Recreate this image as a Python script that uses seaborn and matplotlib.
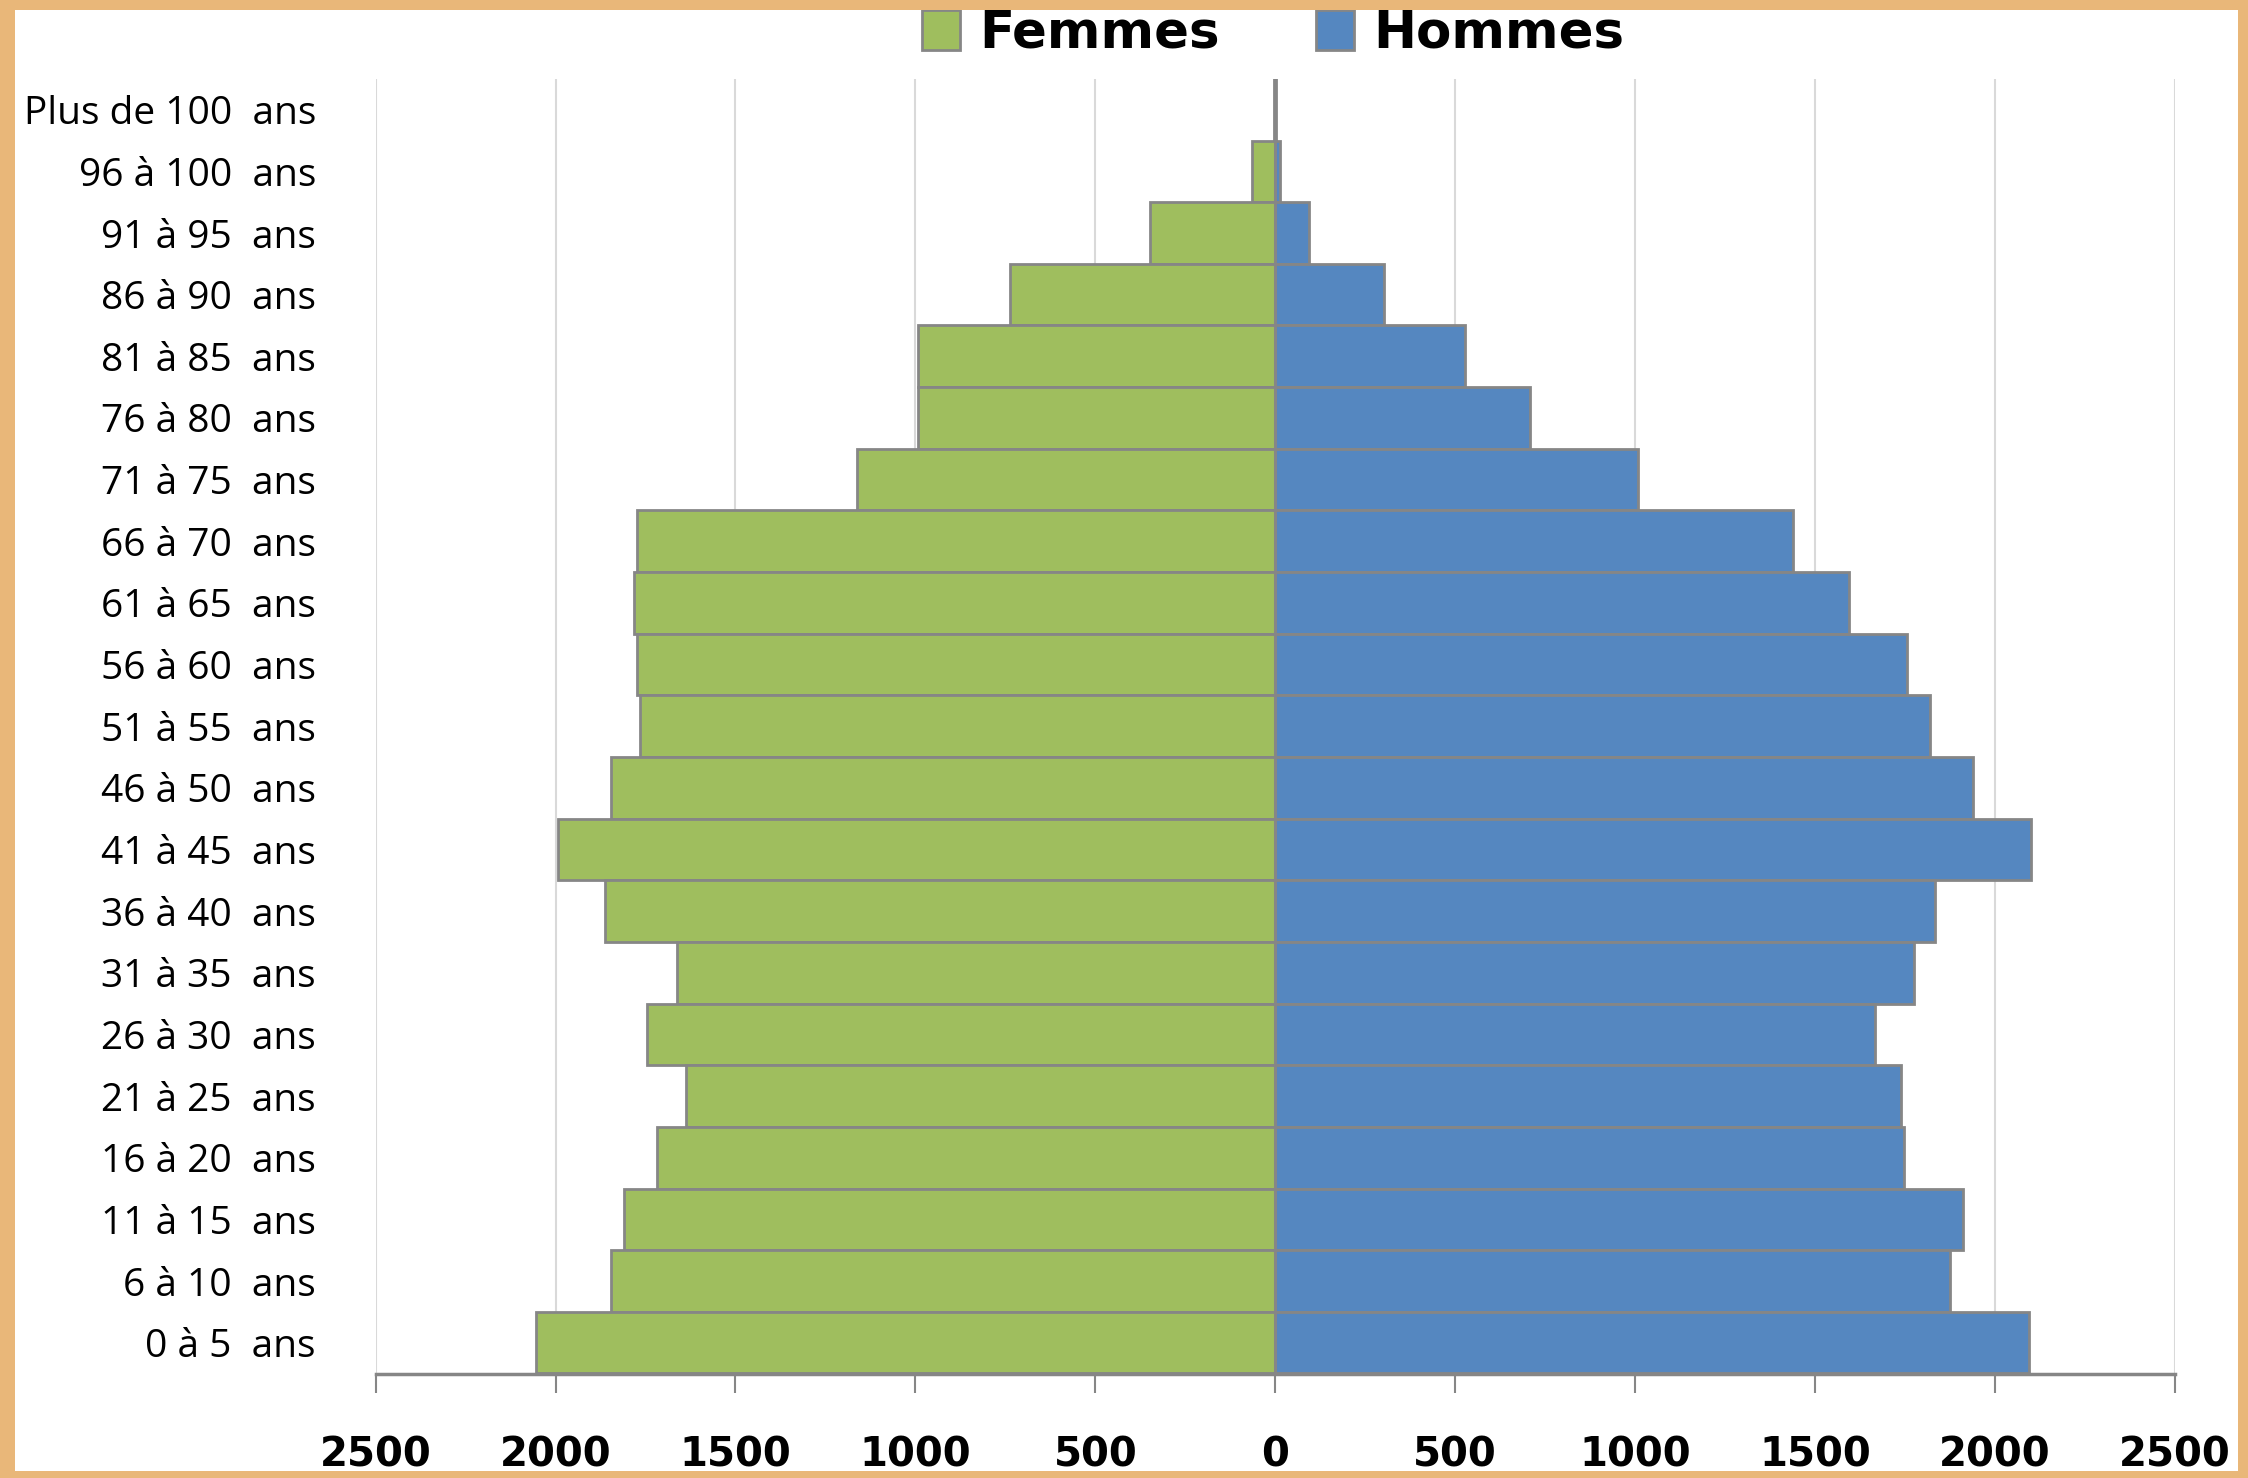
import matplotlib
matplotlib.use("Agg")
import matplotlib.pyplot as plt
from matplotlib.patches import Rectangle, Patch
import seaborn as sns
import numpy as np
import pandas as pd

# ---- data (top row first) ----
categories = ["Plus de 100  ans", "96 à 100  ans", "91 à 95  ans", "86 à 90  ans",
              "81 à 85  ans", "76 à 80  ans", "71 à 75  ans", "66 à 70  ans",
              "61 à 65  ans", "56 à 60  ans", "51 à 55  ans", "46 à 50  ans",
              "41 à 45  ans", "36 à 40  ans", "31 à 35  ans", "26 à 30  ans",
              "21 à 25  ans", "16 à 20  ans", "11 à 15  ans", "6 à 10  ans",
              "0 à 5  ans"]
femmes = [5, 65, 347, 738, 993, 993, 1163, 1775, 1782, 1773, 1764, 1846,
          1992, 1863, 1663, 1745, 1637, 1717, 1810, 1846, 2055]
hommes = [2, 14, 93, 302, 527, 709, 1008, 1438, 1593, 1756, 1819, 1938,
          2100, 1832, 1776, 1667, 1739, 1748, 1912, 1875, 2093]
xticks = [-2500, -2000, -1500, -1000, -500, 0, 500, 1000, 1500, 2000, 2500]
xticklabels = ["2500", "2000", "1500", "1000", "500", "0", "500", "1000", "1500", "2000", "2500"]
legend_labels = ["Femmes", "Hommes"]

green = "#9FBE5E"
blue = "#5587C0"
edge = "#868686"
orange = "#E9B779"

W, H = 2248, 1478
fig = plt.figure(figsize=(W / 100, H / 100), dpi=100)
fig.patch.set_facecolor("white")

ax = fig.add_axes([375.6 / W, 1 - 1373.5 / H, (2175 - 375.6) / W, (1373.5 - 78.9) / H])

df = pd.DataFrame({"cat": categories,
                   "femmes": -np.array(femmes, dtype=float),
                   "hommes": np.array(hommes, dtype=float)})

sns.barplot(data=df, x="femmes", y="cat", orient="h", color=green, width=1.0,
            edgecolor=edge, linewidth=2.0, saturation=1, ax=ax, zorder=2)
sns.barplot(data=df, x="hommes", y="cat", orient="h", color=blue, width=1.0,
            edgecolor=edge, linewidth=2.0, saturation=1, ax=ax, zorder=2)

ax.set_xlim(-2500, 2500)
ax.set_ylim(len(categories) - 0.5, -0.5)
ax.set_xlabel("")
ax.set_ylabel("")

ax.set_xticks(xticks)
ax.set_xticklabels(xticklabels, fontfamily="DejaVu Sans", fontweight="bold", fontsize=29)
ax.tick_params(axis="x", direction="out", length=13.7, width=1.5, color=edge, pad=31)
ax.tick_params(axis="y", length=0, pad=43)
for lab in ax.get_yticklabels():
    lab.set_fontfamily("Open Sans")
    lab.set_fontsize(28)
    lab.set_color("black")

ax.set_axisbelow(True)
ax.xaxis.grid(True, color="#D9D9D9", linewidth=1.5)
ax.yaxis.grid(False)
for s in ["top", "right", "left"]:
    ax.spines[s].set_visible(False)
ax.spines["bottom"].set_color(edge)
ax.spines["bottom"].set_linewidth(2.5)
ax.axvline(0, color=edge, linewidth=2.2, zorder=3)

handles = [Patch(facecolor=green, edgecolor=edge, linewidth=2),
           Patch(facecolor=blue, edgecolor=edge, linewidth=2)]
fig.legend(handles, legend_labels, loc="center", bbox_to_anchor=(1273 / W, 1 - 34 / H),
           ncol=2, frameon=False, handlelength=0.75, handleheight=0.8,
           handletextpad=0.37, columnspacing=1.86,
           prop={"family": "DejaVu Sans", "weight": "bold", "size": 37})

# orange frame
for (x0, y0, w, h) in [(0, 0, 15, H), (W - 10, 0, 10, H), (0, H - 10, W, 10), (0, 0, W, 7)]:
    fig.add_artist(Rectangle((x0 / W, y0 / H), w / W, h / H, transform=fig.transFigure,
                             facecolor=orange, edgecolor="none", zorder=20))

fig.savefig("out.png", dpi=100)
